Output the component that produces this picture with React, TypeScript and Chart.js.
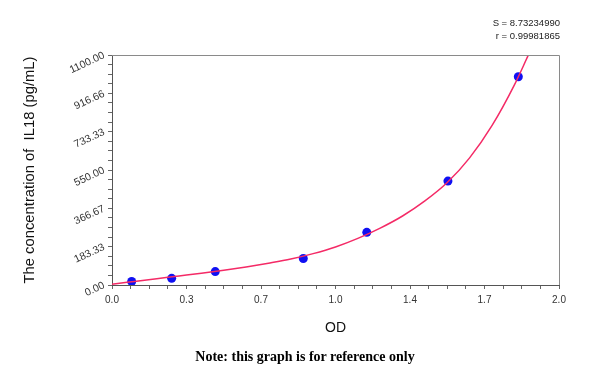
import { useEffect, useRef } from 'react';
import { Chart, registerables } from 'chart.js';

Chart.register(...registerables);

// Standard points (OD, concentration pg/mL)
const stdOD = [0.088, 0.267, 0.462, 0.856, 1.14, 1.503, 1.818];
const stdConc = [17, 32, 64, 127, 252, 497, 996];

// Fitted curve
const fitOD = [0, 0.1, 0.2, 0.3, 0.4, 0.5, 0.6, 0.7, 0.8, 0.9, 1.0, 1.1, 1.2, 1.3, 1.4, 1.5, 1.6, 1.7, 1.8, 1.863];
const fitConc = [4, 17, 30, 43, 56, 70, 86, 104, 124, 150, 182, 223, 272, 330, 402, 490, 608, 762, 956, 1100];

// Axis ticks
const xMax = 2.0;
const yMax = 1100;
const minorPerMajor = 4;
const xTickLabels = ['0.0', '0.3', '0.7', '1.0', '1.4', '1.7', '2.0'];
const yTickLabels = ['0.00', '183.33', '366.67', '550.00', '733.33', '916.66', '1100.00'];

const statsLines = ['S = 8.73234990', 'r = 0.99981865'];
const noteText = 'Note: this graph is for reference only';
const xTitle = 'OD';
const yTitle = 'The concentration of  IL18 (pg/mL)';

const framePlugin = {
  id: 'frame',
  afterDraw(chart: any) {
    const { ctx, chartArea } = chart;
    ctx.save();
    ctx.strokeStyle = '#8a8a8a';
    ctx.lineWidth = 1;
    ctx.beginPath();
    ctx.moveTo(chartArea.left, chartArea.top + 0.5);
    ctx.lineTo(chartArea.right + 0.5, chartArea.top + 0.5);
    ctx.lineTo(chartArea.right + 0.5, chartArea.bottom);
    ctx.stroke();
    ctx.restore();
  },
};

function makeTicks(max: number, labels: string[]) {
  const n = (labels.length - 1) * minorPerMajor;
  return Array.from({ length: n + 1 }, (_, i) => ({ value: (i * max) / n }));
}

export default function App() {
  const ref = useRef<HTMLCanvasElement | null>(null);

  useEffect(() => {
    if (!ref.current) return;
    const tickFont = { family: 'Arial, "Liberation Sans", sans-serif', size: 10 };
    const chart = new Chart(ref.current, {
      type: 'scatter',
      data: {
        datasets: [
          {
            label: 'fit',
            data: fitOD.map((x, i) => ({ x, y: fitConc[i] })),
            showLine: true,
            borderColor: '#f42a66',
            backgroundColor: '#f42a66',
            borderWidth: 1.5,
            pointRadius: 0,
            cubicInterpolationMode: 'monotone',
            order: 0,
          },
          {
            label: 'standards',
            data: stdOD.map((x, i) => ({ x, y: stdConc[i] })),
            showLine: false,
            pointRadius: 4.5,
            backgroundColor: '#1010f2',
            borderColor: '#1010f2',
            borderWidth: 0,
            order: 1,
          },
        ],
      } as any,
      options: {
        animation: false,
        responsive: false,
        devicePixelRatio: 1,
        layout: { padding: { top: 55, right: 41, bottom: 29, left: 0 } },
        plugins: { legend: { display: false }, tooltip: { enabled: false } },
        scales: {
          x: {
            type: 'linear',
            min: 0,
            max: xMax,
            afterBuildTicks: (s: any) => {
              s.ticks = makeTicks(xMax, xTickLabels);
            },
            afterFit: (s: any) => {
              s.height = 60;
            },
            ticks: {
              autoSkip: false,
              maxRotation: 0,
              minRotation: 0,
              padding: 5,
              color: '#333',
              font: tickFont,
              callback: (_v: any, i: number) => (i % minorPerMajor === 0 ? xTickLabels[i / minorPerMajor] : ''),
            },
            grid: { display: true, drawOnChartArea: false, drawTicks: true, tickLength: 4, color: '#666' },
            border: { display: true, color: '#555', width: 1 },
            title: {
              display: true,
              text: xTitle,
              color: '#111',
              font: { family: 'Arial, "Liberation Sans", sans-serif', size: 14 },
              padding: { top: 0, bottom: 8.6 },
            },
          },
          y: {
            type: 'linear',
            min: 0,
            max: yMax,
            afterBuildTicks: (s: any) => {
              s.ticks = makeTicks(yMax, yTickLabels);
            },
            afterFit: (s: any) => {
              s.width = 112;
            },
            ticks: {
              autoSkip: false,
              minRotation: 25,
              maxRotation: 25,
              padding: 4,
              color: '#333',
              font: { family: 'Arial, "Liberation Sans", sans-serif', size: 10.5 },
              callback: (_v: any, i: number) => (i % minorPerMajor === 0 ? yTickLabels[i / minorPerMajor] : ''),
            },
            grid: { display: true, drawOnChartArea: false, drawTicks: true, tickLength: 4, color: '#666' },
            border: { display: true, color: '#555', width: 1 },
            title: {
              display: true,
              text: yTitle,
              color: '#111',
              font: { family: 'Arial, "Liberation Sans", sans-serif', size: 14.8 },
              padding: { top: 21.5, bottom: 0 },
            },
          },
        },
      } as any,
      plugins: [framePlugin],
    });
    return () => chart.destroy();
  }, []);

  return (
    <div style={{ position: 'absolute', left: 0, top: 0, width: 600, height: 374, background: '#fff' }}>
      <canvas ref={ref} width={600} height={374} style={{ width: 600, height: 374, display: 'block' }} />
      <div
        style={{
          position: 'absolute',
          right: 40,
          top: 16,
          textAlign: 'right',
          fontFamily: 'Arial, "Liberation Sans", sans-serif',
          fontSize: 9.5,
          lineHeight: '13.3px',
          color: '#222',
        }}
      >
        {statsLines.map((t) => (
          <div key={t}>{t}</div>
        ))}
      </div>
      <div
        style={{
          position: 'absolute',
          left: 305,
          top: 348,
          transform: 'translateX(-50%)',
          whiteSpace: 'nowrap',
          fontFamily: '"Liberation Serif", "Times New Roman", serif',
          fontWeight: 'bold',
          fontSize: 14,
          lineHeight: '18px',
          color: '#000',
        }}
      >
        {noteText}
      </div>
    </div>
  );
}
